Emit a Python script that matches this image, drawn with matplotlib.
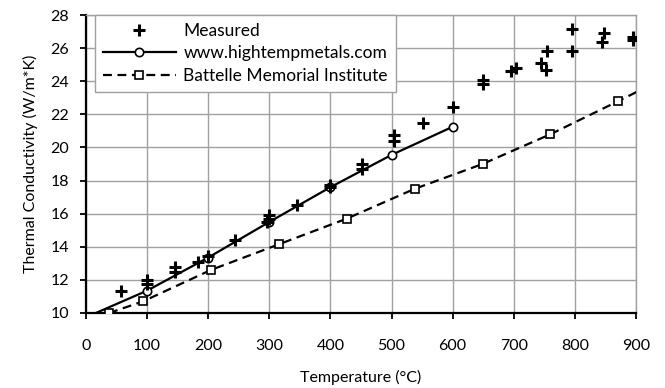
import matplotlib
matplotlib.use('Agg')
import matplotlib.pyplot as plt

plt.rcParams['font.family'] = ['Lato', 'DejaVu Sans']
plt.rcParams['font.size'] = 11.5

# valores
meas_t = [58, 100, 100, 146, 146, 183, 200, 244, 296, 300, 300, 346, 400, 400,
          452, 452, 504, 504, 551, 600, 650, 650, 695, 703, 744, 752, 755,
          795, 796, 847, 845, 895, 895]
meas_k = [11.35, 12.0, 11.75, 12.75, 12.5, 13.1, 13.45, 14.4, 15.5, 15.9, 15.65,
          16.5, 17.75, 17.6, 18.98, 18.72, 20.76, 20.4, 21.5, 22.45, 24.1, 23.85,
          24.6, 24.8, 25.1, 24.7, 25.85, 27.15, 25.85, 26.9, 26.35, 26.7, 26.5]

htm_t = [10, 100, 200, 300, 400, 500, 600]
htm_k = [9.9, 11.35, 13.35, 15.5, 17.6, 19.55, 21.25]

bat_t = [37.8, 93.3, 204.4, 315.6, 426.7, 537.8, 648.9, 760.0, 871.1, 982.2]
bat_k = [10.0, 10.7, 12.6, 14.15, 15.7, 17.5, 19.0, 20.8, 22.8, 24.85]

x_ticks = [0, 100, 200, 300, 400, 500, 600, 700, 800, 900]
y_ticks = [10, 12, 14, 16, 18, 20, 22, 24, 26, 28]

fig = plt.figure(figsize=(6.65, 3.88), dpi=100)
ax = fig.add_axes([0.1293, 0.1933, 0.8271, 0.768])

ax.plot(meas_t, meas_k, linestyle='none', marker='+', color='black',
        markersize=8, markeredgewidth=2.2, label='Measured', zorder=4)
ax.plot(htm_t, htm_k, '-', color='black', linewidth=1.6, marker='o',
        markersize=6, markerfacecolor='white', markeredgecolor='black',
        markeredgewidth=1.2, markevery=list(range(1, len(htm_t))),
        label='www.hightempmetals.com', zorder=3)
ax.plot(bat_t, bat_k, color='black', linewidth=1.6, dashes=(4, 2.5), marker='s',
        markersize=6, markerfacecolor='white', markeredgecolor='black',
        markeredgewidth=1.2, label='Battelle Memorial Institute', zorder=3)

ax.set_xlim(0, 900)
ax.set_ylim(10, 28)
ax.set_xticks(x_ticks)
ax.set_yticks(y_ticks)
ax.grid(True, color='#a0a0a0', linewidth=1.0)
ax.set_axisbelow(True)

for s in ['top', 'right']:
    ax.spines[s].set_color('#a0a0a0')
    ax.spines[s].set_linewidth(1.0)
for s in ['left', 'bottom']:
    ax.spines[s].set_color('black')
    ax.spines[s].set_linewidth(1.6)

ax.tick_params(axis='x', direction='out', length=4, width=1.3, pad=15)
ax.tick_params(axis='y', direction='out', length=4, width=1.3, pad=8)

ax.set_xlabel('Temperature (°C)', labelpad=12)
ax.set_ylabel('Thermal Conductivity (W/m*K)', labelpad=9)

leg = ax.legend(loc='upper left', bbox_to_anchor=(0.016, 1.0), borderaxespad=0,
                fontsize=12.5, handlelength=4.2, handletextpad=0.45,
                labelspacing=0.38, borderpad=0.45, fancybox=False,
                framealpha=1, edgecolor='#a0a0a0')
leg.get_frame().set_linewidth(1.0)

plt.savefig('out.png', dpi=100)
